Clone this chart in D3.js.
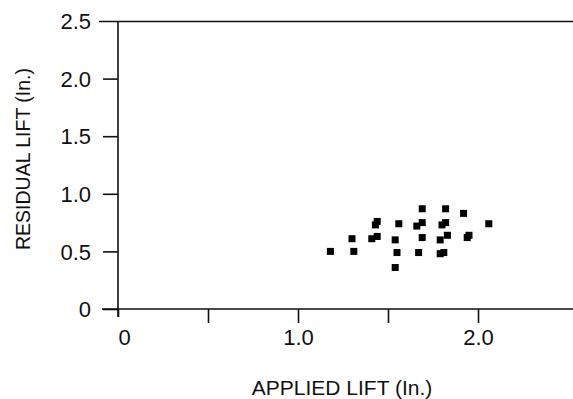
<!DOCTYPE html>
<html><head><meta charset="utf-8">
<script src="https://cdn.jsdelivr.net/npm/d3@7"></script>
<style>
html,body{margin:0;padding:0;background:#fff;}
svg{display:block;font-family:"Liberation Sans",Arial,sans-serif;}
</style></head>
<body>
<svg id="chart" width="573" height="399"></svg>
<script>
// Data
const appliedLift = [1.18,1.31,1.30,1.41,1.44,1.43,1.44,1.56,1.54,1.55,1.54,1.69,1.66,1.69,1.69,1.67,1.82,1.82,1.80,1.83,1.79,1.81,1.79,1.92,1.95,1.94,2.06];
const residualLift = [0.50,0.50,0.61,0.61,0.63,0.73,0.76,0.74,0.60,0.49,0.36,0.87,0.72,0.75,0.62,0.49,0.87,0.75,0.73,0.64,0.60,0.49,0.48,0.83,0.64,0.62,0.74];
const xTicks = [0,0.5,1.0,1.5,2.0];
const xTickLabels = ["0","","1.0","","2.0"];
const yTicks = [0,0.5,1.0,1.5,2.0,2.5];
const yTickLabels = ["0","0.5","1.0","1.5","2.0","2.5"];
const xTitle = "APPLIED LIFT (In.)";
const yTitle = "RESIDUAL LIFT (In.)";

const W = 573, H = 399;
const svg = d3.select("#chart");
const x = d3.scaleLinear().domain([0,2.5]).range([118,568]);
const y = d3.scaleLinear().domain([0,2.5]).range([309,21]);

const xAxis = d3.axisBottom(x).tickValues(xTicks).tickFormat((d,i)=>xTickLabels[i]).tickSize(14).tickSizeOuter(0);
const gx = svg.append("g").attr("transform",`translate(0,${y(0)})`).call(xAxis);
gx.select(".domain").attr("d",`M${x(0)-16},0H${W}`);
gx.selectAll(".tick").filter(d=>d===0).select("line").attr("y2",8);
gx.selectAll(".tick text").attr("y",36).attr("dy",0).attr("font-size",22).attr("fill","#111");
gx.selectAll(".tick").filter(d=>d===0).select("text").attr("x",6);

const yAxis = d3.axisLeft(y).tickValues(yTicks).tickFormat((d,i)=>yTickLabels[i]).tickSize(15).tickSizeOuter(0);
const gy = svg.append("g").attr("transform",`translate(${x(0)},0)`).call(yAxis);
gy.select(".domain").attr("d",`M0,${y(2.5)}V${y(0)+8}`);
gy.selectAll(".tick").filter(d=>d===2.5).select("line").attr("x2",W-x(0)).attr("x1",-19);
gy.selectAll(".tick text").attr("x",-27).attr("dy","0.35em").attr("font-size",22).attr("fill","#111");

svg.selectAll(".domain, .tick line").attr("stroke","#111").attr("stroke-width",1.6);

// markers
const s = 7;
svg.append("g").selectAll("rect").data(appliedLift).join("rect")
  .attr("x",(d)=>x(d)-s/2)
  .attr("y",(d,i)=>y(residualLift[i])-s/2)
  .attr("width",s).attr("height",s).attr("fill","#000");

svg.append("text").attr("x",342).attr("y",395).attr("text-anchor","middle")
  .attr("font-size",21).attr("fill","#111").text(xTitle);
svg.append("text").attr("transform",`translate(30,159) rotate(-90)`).attr("text-anchor","middle")
  .attr("font-size",19.5).attr("fill","#111").text(yTitle);
</script>
</body></html>
